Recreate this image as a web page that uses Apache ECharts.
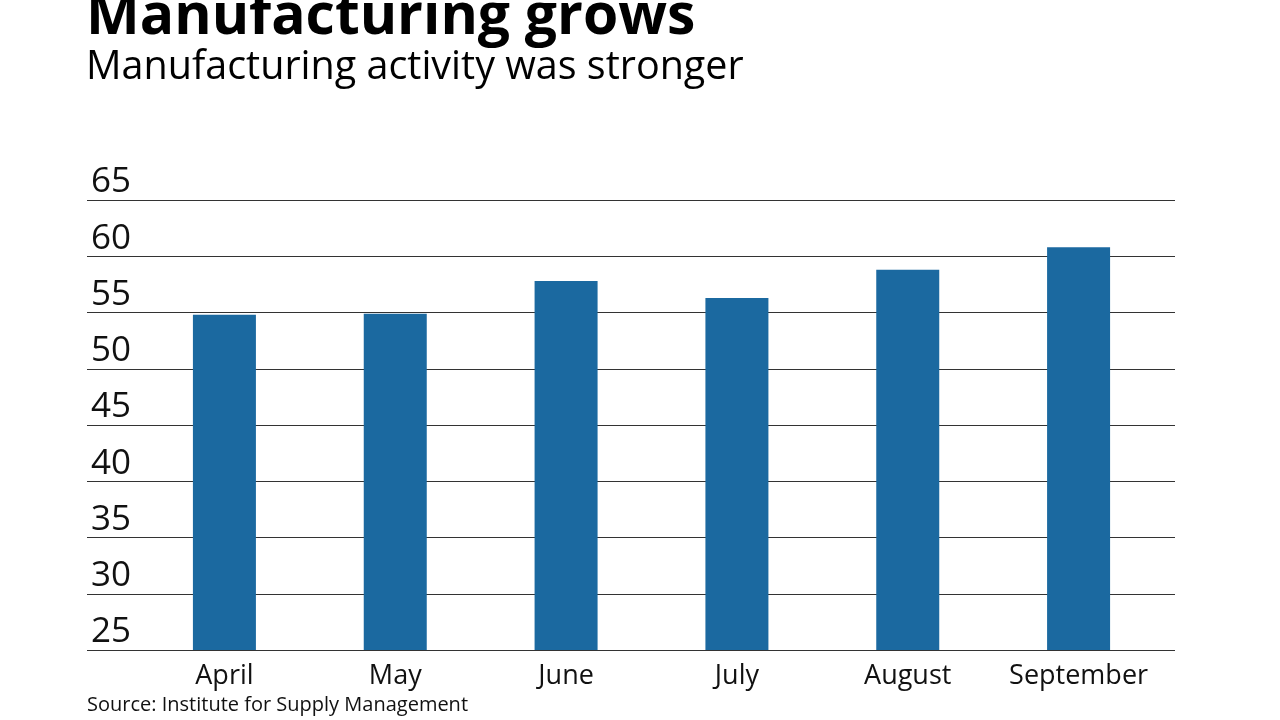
<!DOCTYPE html>
<html>
<head>
<meta charset="utf-8">
<script src="https://cdn.jsdelivr.net/npm/echarts@6/dist/echarts.min.js"></script>
<style>html,body{margin:0;padding:0;background:#fff;}#c{width:1280px;height:720px;}</style>
</head>
<body>
<div id="c"></div>
<script>
const categories = ['April', 'May', 'June', 'July', 'August', 'September'];
const values = [54.8, 54.9, 57.8, 56.3, 58.8, 60.8];
const yMin = 25, yMax = 65, yStep = 5;
const titleText = 'Manufacturing grows';
const subtitleText = 'Manufacturing activity was stronger';
const sourceText = 'Source: Institute for Supply Management';

const FONT = '"Open Sans"';
const chart = echarts.init(document.getElementById('c'));
chart.setOption({
  backgroundColor: '#fff',
  animation: false,
  graphic: [
    { type: 'text', left: 86, top: -11, style: { text: titleText, font: 'bold 57px ' + FONT, fill: '#000' } },
    { type: 'text', left: 86, top: 48, style: { text: subtitleText, font: '39.5px ' + FONT, fill: '#000' } },
    { type: 'text', left: 87, top: 695, style: { text: sourceText, font: '20px ' + FONT, fill: '#111' } }
  ],
  grid: [
    { left: 87, right: 105, top: 200, bottom: 70 },
    { left: 139, right: 116, top: 200, bottom: 70 }
  ],
  xAxis: [
    { type: 'value', gridIndex: 0, show: false, min: 0, max: 1 },
    { type: 'category', gridIndex: 1, data: categories,
      axisLine: { show: false }, axisTick: { show: false },
      axisLabel: { interval: 0, fontFamily: FONT, fontSize: 27, color: '#111', margin: 13 } }
  ],
  yAxis: [
    { type: 'value', gridIndex: 0, min: yMin, max: yMax, interval: yStep,
      axisLine: { show: false }, axisTick: { show: false },
      splitLine: { show: true, lineStyle: { color: '#333', width: 1 } },
      axisLabel: { inside: true, margin: 4, verticalAlign: 'bottom', fontFamily: FONT, fontSize: 35, color: '#111', padding: [0, 0, 0, 0] } },
    { type: 'value', gridIndex: 1, min: yMin, max: yMax, interval: yStep, show: false, splitLine: { show: false } }
  ],
  series: [
    { type: 'bar', xAxisIndex: 1, yAxisIndex: 1, data: values, barWidth: 63,
      itemStyle: { color: '#1b69a0' } }
  ]
});
</script>
</body>
</html>
